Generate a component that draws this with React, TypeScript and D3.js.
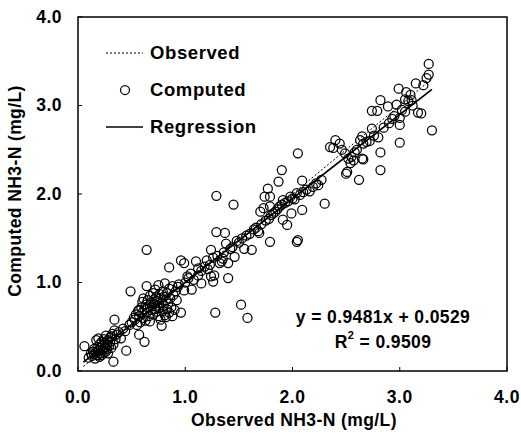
import React from "react";
import * as d3 from "d3";

const observed: number[] = [
  // low cluster
  0.06, 0.10, 0.12, 0.13, 0.14, 0.15, 0.15, 0.16, 0.17, 0.17, 0.18, 0.18, 0.19, 0.19, 0.20, 0.20, 0.21, 0.21, 0.22, 0.22,
  0.23, 0.23, 0.24, 0.24, 0.25, 0.25, 0.26, 0.26, 0.27, 0.27, 0.28, 0.28, 0.29, 0.30, 0.30, 0.31, 0.31, 0.32, 0.33, 0.33,
  0.34, 0.34, 0.35, 0.36, 0.38, 0.40, 0.45, 0.42, 0.44, 0.57, 0.62, 0.49,
  // mid cluster
  0.48, 0.50, 0.52, 0.53, 0.54, 0.55, 0.56, 0.57, 0.57, 0.58, 0.59, 0.60, 0.60, 0.61, 0.61, 0.62, 0.63, 0.63, 0.64, 0.64,
  0.65, 0.65, 0.66, 0.67, 0.67, 0.68, 0.68, 0.69, 0.70, 0.70, 0.71, 0.71, 0.72, 0.72, 0.73, 0.73, 0.74, 0.74, 0.75, 0.75,
  0.76, 0.76, 0.77, 0.77, 0.78, 0.78, 0.79, 0.79, 0.80, 0.80, 0.81, 0.81, 0.82, 0.82, 0.83, 0.83, 0.84, 0.85, 0.85, 0.86,
  0.87, 0.88, 0.88, 0.89, 0.90, 0.91, 0.92, 0.93, 0.96, 0.85, 0.64, 0.94,
  // 0.95 - 1.6
  0.96, 0.99, 0.99, 1.02, 1.06, 1.00, 1.03, 1.05, 1.08, 1.10, 1.12, 1.12, 1.15, 1.15, 1.18, 1.20, 1.21, 1.23, 1.24, 1.24,
  1.26, 1.27, 1.26, 1.28, 1.29, 1.30, 1.32, 1.34, 1.35, 1.36, 1.37, 1.38, 1.40, 1.40, 1.42, 1.44, 1.46, 1.48, 1.50, 1.52,
  1.53, 1.55, 1.57, 1.58, 1.60, 1.62, 1.29, 1.45,
  // 1.6 - 2.3
  1.64, 1.66, 1.68, 1.69, 1.70, 1.71, 1.73, 1.74, 1.75, 1.77, 1.78, 1.79, 1.79, 1.79, 1.80, 1.82, 1.84, 1.86, 1.87, 1.88,
  1.90, 1.90, 1.91, 1.91, 1.93, 1.95, 1.96, 1.98, 1.99, 2.00, 2.02, 2.04, 2.04, 2.05, 2.05, 2.07, 2.09, 2.09, 2.10, 2.13,
  2.16, 2.19, 2.24, 2.27, 2.30, 2.22,
  // 2.3 - 3.3
  2.35, 2.38, 2.40, 2.44, 2.46, 2.49, 2.50, 2.51, 2.52, 2.54, 2.55, 2.57, 2.58, 2.60, 2.62, 2.63, 2.65, 2.65, 2.66, 2.66,
  2.69, 2.72, 2.74, 2.74, 2.76, 2.79, 2.80, 2.82, 2.82, 2.82, 2.85, 2.89, 2.90, 2.93, 2.95, 2.97, 2.99, 3.00, 3.00, 3.00,
  3.02, 3.05, 3.05, 3.06, 3.08, 3.10, 3.11, 3.12, 3.15, 3.17, 3.20, 3.22, 3.25, 3.27, 3.27, 3.30,
];

const computed: number[] = [
  // low cluster
  0.28, 0.15, 0.20, 0.17, 0.22, 0.19, 0.25, 0.14, 0.21, 0.35, 0.18, 0.27, 0.37, 0.23, 0.16, 0.30, 0.20, 0.26, 0.33, 0.18,
  0.24, 0.29, 0.21, 0.36, 0.27, 0.32, 0.22, 0.40, 0.30, 0.25, 0.35, 0.20, 0.28, 0.33, 0.38, 0.39, 0.26, 0.42, 0.30, 0.105,
  0.46, 0.58, 0.36, 0.41, 0.44, 0.37, 0.23, 0.48, 0.45, 0.41, 0.33, 0.90,
  // mid cluster
  0.52, 0.55, 0.60, 0.58, 0.64, 0.52, 0.68, 0.69, 0.62, 0.55, 0.72, 0.66, 0.78, 0.82, 0.60, 0.70, 0.75, 0.57, 0.96, 0.66,
  0.80, 0.72, 0.62, 0.56, 0.85, 0.77, 0.69, 0.73, 0.88, 0.64, 0.81, 0.76, 0.70, 0.92, 0.67, 0.84, 0.79, 0.74, 0.97, 0.62,
  0.87, 0.71, 0.82, 0.58, 0.51, 0.77, 0.90, 0.68, 0.84, 0.74, 0.99, 0.63, 0.61, 0.80, 0.88, 0.70, 0.76, 0.93, 0.66, 0.82,
  0.72, 0.96, 0.62, 0.86, 0.69, 0.90, 0.80, 0.95, 0.66, 1.17, 1.37, 0.98,
  // 0.95 - 1.6
  1.25, 1.22, 0.91, 1.07, 0.92, 1.00, 1.05, 1.10, 1.03, 1.24, 1.16, 1.08, 0.99, 1.13, 1.18, 1.25, 1.15, 1.20, 1.37, 1.07,
  1.01, 1.08, 1.28, 0.66, 1.57, 1.30, 1.22, 1.24, 1.27, 1.34, 1.56, 1.44, 1.22, 1.05, 1.38, 1.40, 1.29, 1.47, 1.45, 0.75,
  1.50, 1.38, 1.53, 0.60, 1.55, 1.37, 1.98, 1.88,
  // 1.6 - 2.3
  1.60, 1.62, 1.58, 1.56, 1.80, 1.66, 1.84, 1.97, 1.70, 2.06, 1.72, 1.97, 1.86, 1.46, 1.76, 1.78, 1.80, 1.83, 2.14, 1.86,
  2.27, 1.88, 1.93, 1.71, 1.90, 1.65, 1.92, 1.97, 1.78, 1.95, 1.94, 2.01, 1.46, 1.48, 2.46, 1.99, 1.82, 2.15, 2.02, 2.05,
  2.03, 2.08, 2.10, 2.16, 1.89, 2.12,
  // 2.3 - 3.3
  2.53, 2.52, 2.61, 2.57, 2.50, 2.46, 2.23, 2.25, 2.40, 2.35, 2.42, 2.38, 2.47, 2.50, 2.16, 2.61, 2.65, 2.40, 2.57, 2.39,
  2.59, 2.60, 2.94, 2.74, 2.66, 2.94, 2.64, 3.06, 2.47, 2.27, 2.75, 2.99, 2.80, 2.85, 2.88, 3.01, 3.19, 2.86, 2.78, 2.58,
  2.95, 3.07, 2.93, 3.15, 3.05, 3.12, 3.06, 3.00, 3.25, 2.92, 2.91, 3.23, 3.31, 3.35, 3.47, 2.72,
];

const tickValues: number[] = [0, 1, 2, 3, 4];
const lineRange: number[] = [0.05, 3.3];
const slope = 0.9481;
const intercept = 0.0529;
const legendLabels: string[] = ["Observed", "Computed", "Regression"];

const W = 521;
const H = 436;
const FONT = "'Liberation Sans', Arial, Helvetica, sans-serif";

export default function App() {
  const x = d3.scaleLinear().domain([0, 4]).range([78, 507]);
  const y = d3.scaleLinear().domain([0, 4]).range([371, 17]);
  const fmt = d3.format(".1f");

  const obsLine = d3
    .line<number>()
    .x((d) => x(d))
    .y((d) => y(d))(lineRange);
  const regLine = d3
    .line<number>()
    .x((d) => x(d))
    .y((d) => y(slope * d + intercept))(lineRange);

  const points = observed.map((o, i) => [o, computed[i]] as [number, number]);

  return (
    <svg
      width={W}
      height={H}
      style={{ position: "absolute", left: 0, top: 0, background: "#fff" }}
      fontFamily={FONT}
    >
      <rect x={0} y={0} width={W} height={H} fill="#fff" />
      {/* frame */}
      <rect
        x={x(0)}
        y={y(4)}
        width={x(4) - x(0)}
        height={y(0) - y(4)}
        fill="none"
        stroke="#000"
        strokeWidth={1.5}
      />
      {/* ticks */}
      {tickValues.map((t) => (
        <g key={"t" + t}>
          <line x1={x(t)} x2={x(t)} y1={y(0)} y2={y(0) - 4} stroke="#000" strokeWidth={1} />
          <line x1={x(0)} x2={x(0) + 4} y1={y(t)} y2={y(t)} stroke="#000" strokeWidth={1} />
          <text
            x={x(t)}
            y={398}
            textAnchor="middle"
            dominantBaseline="middle"
            fontSize={17.5}
            fontWeight="bold"
            letterSpacing={0.5}
            fill="#000"
          >
            {fmt(t)}
          </text>
          <text
            x={62}
            y={y(t) + 1}
            textAnchor="end"
            dominantBaseline="middle"
            fontSize={17.5}
            fontWeight="bold"
            letterSpacing={0.5}
            fill="#000"
          >
            {fmt(t)}
          </text>
        </g>
      ))}
      {/* axis titles */}
      <text
        x={294}
        y={421}
        textAnchor="middle"
        dominantBaseline="middle"
        fontSize={17.5}
        fontWeight="bold"
        letterSpacing={0.4}
        fill="#000"
      >
        Observed NH3-N (mg/L)
      </text>
      <text
        transform={`translate(16,${191}) rotate(-90)`}
        textAnchor="middle"
        dominantBaseline="middle"
        fontSize={17.5}
        fontWeight="bold"
        letterSpacing={0.4}
        fill="#000"
      >
        Computed NH3-N (mg/L)
      </text>
      {/* data points */}
      {points.map((p, i) => (
        <circle
          key={i}
          cx={x(p[0])}
          cy={y(p[1])}
          r={4.5}
          fill="none"
          stroke="#000"
          strokeWidth={1.25}
        />
      ))}
      {/* lines */}
      <path d={obsLine || ""} fill="none" stroke="#000" strokeWidth={1} strokeDasharray="2,2" />
      <path d={regLine || ""} fill="none" stroke="#000" strokeWidth={1.7} />
      {/* legend */}
      <line x1={106} x2={143} y1={53} y2={53} stroke="#000" strokeWidth={1} strokeDasharray="2,2" />
      <circle cx={125} cy={90} r={4.5} fill="none" stroke="#000" strokeWidth={1.25} />
      <line x1={106} x2={143} y1={127} y2={127} stroke="#000" strokeWidth={1.7} />
      {legendLabels.map((l, i) => (
        <text
          key={l}
          x={150}
          y={54 + i * 37}
          dominantBaseline="middle"
          fontSize={18.5}
          fontWeight="bold"
          letterSpacing={0.6}
          fill="#000"
        >
          {l}
        </text>
      ))}
      {/* equation */}
      <text
        x={383}
        y={318}
        textAnchor="middle"
        dominantBaseline="middle"
        fontSize={17.5}
        fontWeight="bold"
        letterSpacing={0.4}
        fill="#000"
      >
        y = 0.9481x + 0.0529
      </text>
      <text
        x={383}
        y={343}
        textAnchor="middle"
        dominantBaseline="middle"
        fontSize={17.5}
        fontWeight="bold"
        letterSpacing={0.4}
        fill="#000"
      >
        R
        <tspan fontSize={11} dy={-7}>
          2
        </tspan>
        <tspan dy={7}> = 0.9509</tspan>
      </text>
    </svg>
  );
}
